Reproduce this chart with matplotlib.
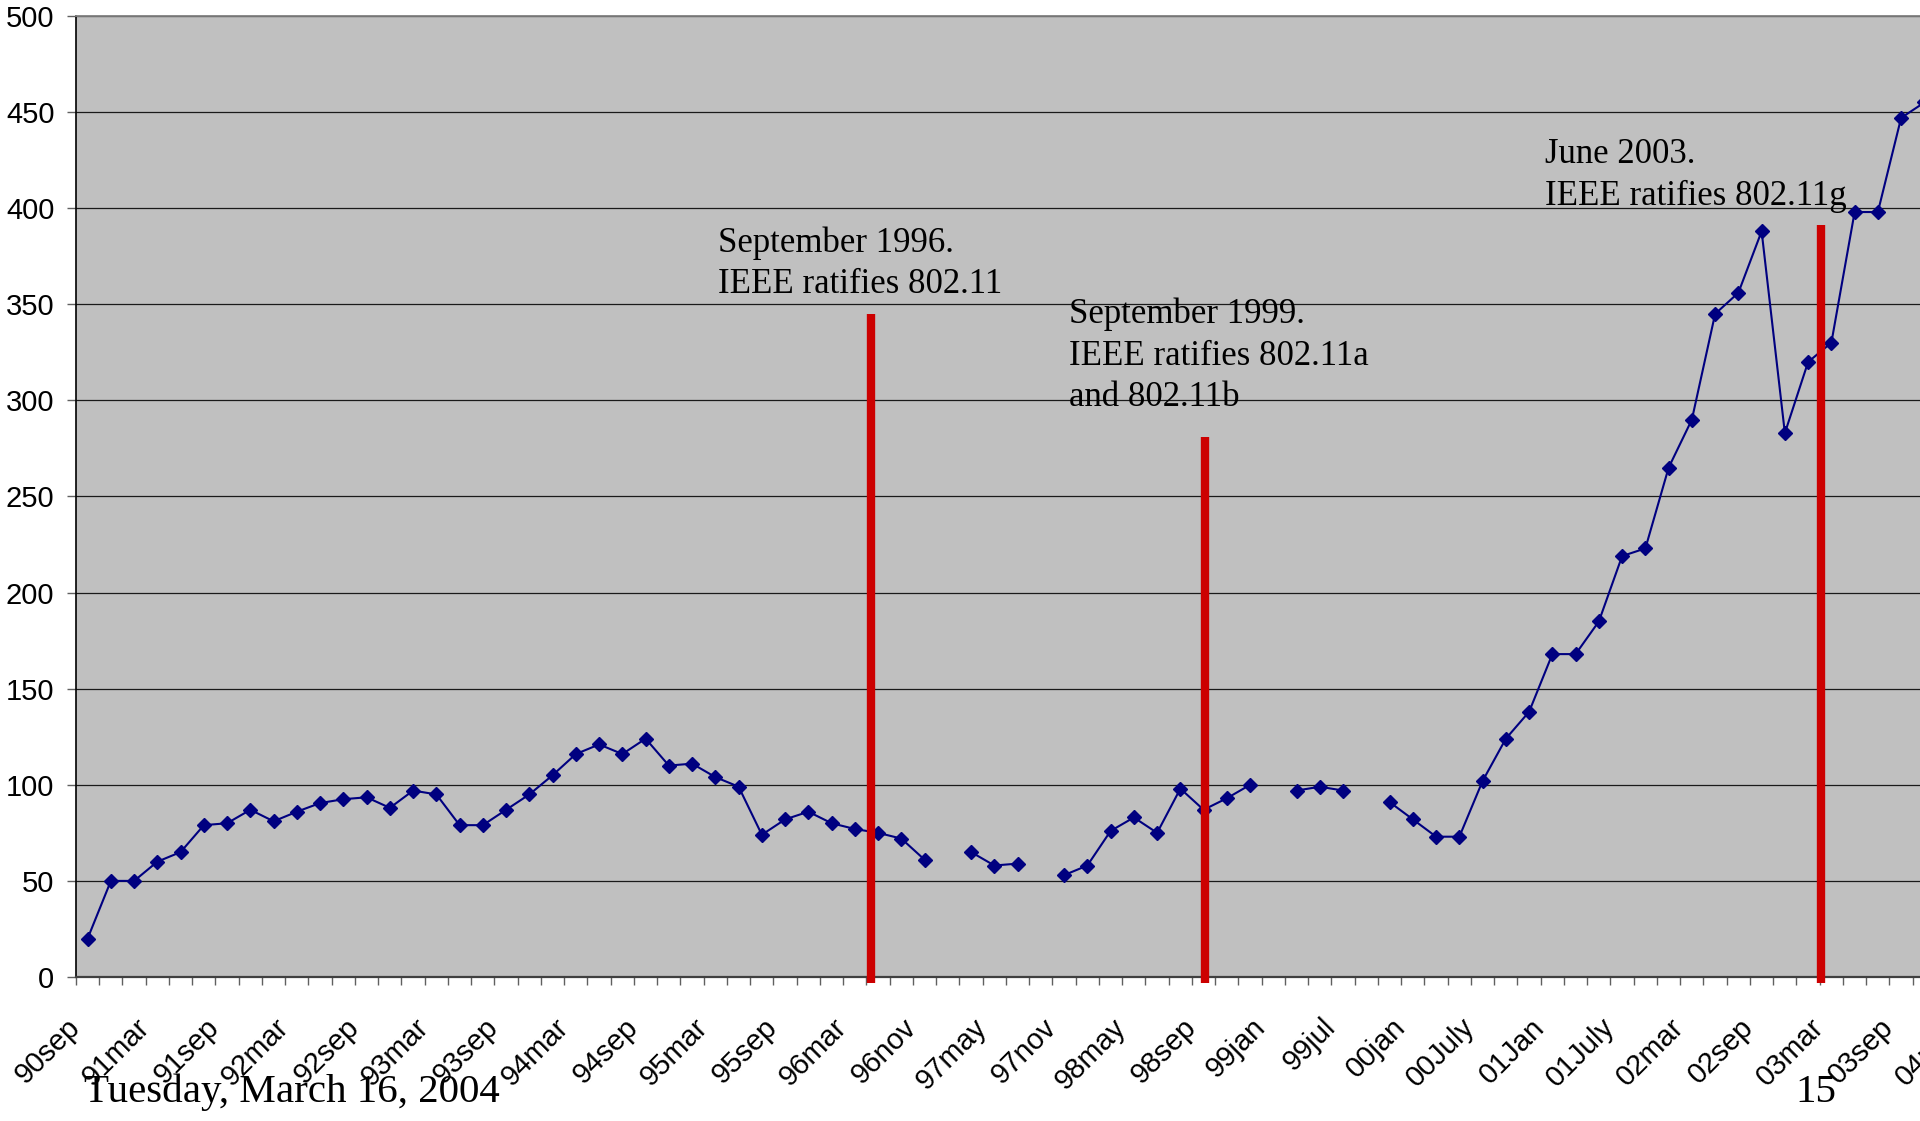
import numpy as np
import matplotlib
matplotlib.use("Agg")
import matplotlib.pyplot as plt
from matplotlib.transforms import ScaledTranslation

# ---------------- data ----------------
tick_labels = ["90sep", "91mar", "91sep", "92mar", "92sep", "93mar", "93sep",
               "94mar", "94sep", "95mar", "95sep", "96mar", "96nov", "97may",
               "97nov", "98may", "98sep", "99jan", "99jul", "00jan", "00July",
               "01Jan", "01July", "02mar", "02sep", "03mar", "03sep", "04mar"]
label_step = 3  # one label every 3 categories

values = [20, 50, 50, 60, 65, 79, 80, 87, 81, 86,
          90.5, 92.5, 93.5, 88, 97, 95, 79, 79, 87, 95,
          105, 116, 121, 116, 124, 110, 111, 104, 99, 74,
          82, 86, 80, 77, 75, 72, 61, None, 65, 58,
          59, None, 53, 58, 76, 83, 75, 98, 87, 93,
          100, None, 97, 99, 97, None, 91, 82, 73, 73,
          102, 124, 138, 168, 168, 185, 219, 223, 265, 290,
          345, 356, 388, 283, 320, 330, 398, 398, 447, 455]

# red event markers (category position, height)
event_x = [33.7, 48.07, 74.57]
event_top = [345, 281, 391]

annotations = [
    (27.11, [377.2, 355.9], ["September 1996.", "IEEE ratifies 802.11"]),
    (42.21, [340.3, 318.4, 297.1], ["September 1999.", "IEEE ratifies 802.11a", "and 802.11b"]),
    (62.68, [423.4, 401.7], ["June 2003.", "IEEE ratifies 802.11g"]),
]

footer_left = "Tuesday, March 16, 2004"
footer_right = "15"

# ---------------- figure ----------------
SANS = "Liberation Sans"
SERIF = "Liberation Serif"

fig = plt.figure(figsize=(19.2, 11.21), dpi=100)
fig.patch.set_facecolor("white")
ax = fig.add_axes([0.03958, 0.12846, 0.99297, 0.85727])
ax.set_facecolor("#C0C0C0")

x = np.arange(len(values))
y = np.array([np.nan if v is None else v for v in values], dtype=float)

ax.plot(x, y, color="#000080", lw=1.5, marker="D", ms=7.3,
        mfc="#000080", mec="#000080", mew=1, zorder=3)

ax.set_xlim(-0.5, 81.5)
ax.set_ylim(0, 500)

# y axis
ax.set_yticks(np.arange(0, 501, 50))
ax.set_yticklabels([str(v) for v in range(0, 501, 50)], fontfamily=SANS, fontsize=21)
ax.tick_params(axis="y", length=6.5, width=1, color="#606060", pad=9, labelcolor="black")
ax.yaxis.grid(True, color="#1a1a1a", lw=0.9)
ax.set_axisbelow(True)

# x axis
major_pos = np.arange(len(tick_labels)) * label_step
ax.set_xticks(major_pos)
ax.set_xticklabels(tick_labels, fontfamily=SANS, fontsize=21)
ax.set_xticks(np.arange(-0.5, 82, 1), minor=True)
ax.tick_params(axis="x", which="major", length=0, pad=26)
ax.tick_params(axis="x", which="minor", length=5.8, width=1, color="#606060")
offset = ScaledTranslation(-22 / 100, 0, fig.dpi_scale_trans)
for lbl in ax.get_xticklabels():
    lbl.set_rotation(45)
    lbl.set_ha("right")
    lbl.set_va("top")
    lbl.set_rotation_mode("anchor")
    lbl.set_transform(lbl.get_transform() + offset)

# spines
ax.spines["right"].set_visible(False)
ax.spines["top"].set_color("#808080")
ax.spines["top"].set_linewidth(1.3)
ax.spines["left"].set_color("#000000")
ax.spines["left"].set_linewidth(1.2)
ax.spines["bottom"].set_color("#404040")
ax.spines["bottom"].set_linewidth(1.6)

# red event lines
ax.vlines(event_x, -3, event_top, colors="#CC0000", lw=6, zorder=4, clip_on=False)

# annotations
for ax_x, ys, lines in annotations:
    for yy, txt in zip(ys, lines):
        ax.text(ax_x, yy, txt, fontfamily=SERIF, fontsize=25, va="baseline",
                ha="left", color="black", zorder=5)

# footer
fig.text(84 / 1920, 19 / 1121, footer_left, fontfamily=SERIF, fontsize=29.5,
         va="baseline", ha="left", color="black")
fig.text(1795 / 1920, 19 / 1121, footer_right, fontfamily=SERIF, fontsize=29.5,
         va="baseline", ha="left", color="black")

fig.savefig("out.png", dpi=100, facecolor="white")
